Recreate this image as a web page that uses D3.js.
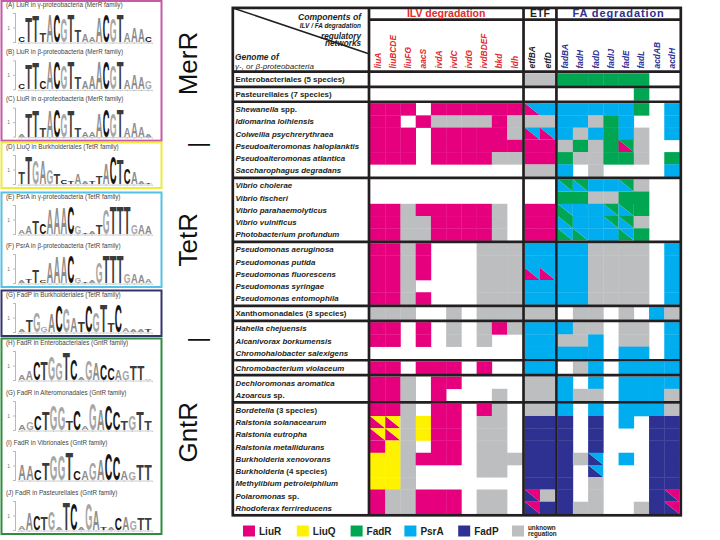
<!DOCTYPE html>
<html>
<head>
<meta charset="utf-8">
<script src="https://cdn.jsdelivr.net/npm/d3@7"></script>
<style>
  body { margin: 0; background: #fff; }
  svg { display: block; font-family: "Liberation Sans", Arial, sans-serif; }
</style>
</head>
<body>
<svg id="fig" width="720" height="540"></svg>
<script>
// ---- data ----
const ilvGenes = ["liuA", "liuBCDE", "liuFG", "aacS", "ivdA", "ivdC", "ivdG", "ivdBDEF", "bkd", "ldh"];
const etfGenes = ["etfBA", "etfD"];
const faGenes = ["fadBA", "fadH", "fadD", "fadIJ", "fadE", "fadL", "acdAB", "acdH"];
const sectionNames = ["ILV degradation", "ETF", "FA degradation"];

const genomes = [
  "Enterobacteriales (5 species)", "Pasteurellales (7 species)",
  "Shewanella spp.", "Idiomarina loihiensis", "Colwellia psychrerythraea",
  "Pseudoalteromonas haloplanktis", "Pseudoalteromonas atlantica", "Saccharophagus degradans",
  "Vibrio cholerae", "Vibrio fischeri", "Vibrio parahaemolyticus", "Vibrio vulnificus", "Photobacterium profundum",
  "Pseudomonas aeruginosa", "Pseudomonas putida", "Pseudomonas fluorescens", "Pseudomonas syringae", "Pseudomonas entomophila",
  "Xanthomonadales (3 species)",
  "Hahella chejuensis", "Alcanivorax borkumensis", "Chromohalobacter salexigens",
  "Chromobacterium violaceum",
  "Dechloromonas aromatica", "Azoarcus sp.",
  "Bordetella (3 species)", "Ralstonia solanacearum", "Ralstonia eutropha", "Ralstonia metallidurans",
  "Burkholderia xenovorans", "Burkholderia (4 species)", "Methylibium petroleiphilum", "Polaromonas sp.", "Rhodoferax ferrireducens"
];
const genomeGroup = [0, 1, 2, 2, 2, 2, 2, 2, 3, 3, 3, 3, 3, 4, 4, 4, 4, 4, 5, 6, 6, 6, 7, 8, 8, 9, 9, 9, 9, 9, 9, 9, 9, 9];
const plainLabels = ["Enterobacteriales (5 species)", "Pasteurellales (7 species)", "Xanthomonadales (3 species)"];

// R LiuR, Q LiuQ, F FadR, P PsrA, D FadP, U unknown, . none ; "a/b" = lower-left a, upper-right b
const regulation = [
  ". . . . . . . . . . U U F F F F F F . .",
  ". . . . . . . . . . . . . . . . . F . .",
  "R R R . R R R R R R R/P P P P P P P F . P",
  "R R . R U U U U R U U U P P U F P . . P",
  "R R R . R R R R R U R/P R/P P U P F P U . P",
  "R R R . R R R R R R R R U F U F R/F U . .",
  "R R R . R R R R U U R R F U U F F U . F",
  ". . . . . . . . . . U U P . U . . . . P",
  ". . . . . . . . . . . . P/F P/F P P P/F U . .",
  ". . . . . . . . . . . . F F U U F F . .",
  "R R U R R R R R U . R R F/P P P P/F P/F F . .",
  "R R U U R R R R U . R R P/F P P P/F P/F U . .",
  "R R U U R R R R U . R R F/P F/P P P F/P F . .",
  "R R U R . . . U U U P P P P U U U U . P",
  "R R U R . . . U U U P P P P U U U U . P",
  "R R U R . . . U U U R/P R/P P P U U U U . P",
  "R R U . . . . U U U P P P P U U U U . P",
  "R R U R . . . U U U P P P P U U U U . P",
  "U U U . . U . U U U U U . U U . U . P U",
  "R R . R . U . U R U P P P U U . U U . P",
  "R R . R . U . U . . P P U U P . U U . P",
  ". . . . . . . . . . P P P P P . P P . P",
  "R R . R R R . R . . P P . U P . P P P P",
  "R R U . R R . . . . U U P . P . P P P P",
  "R R U . R . . . U . U U P U U . P P P U",
  "R R U . R R . R U . U U P . P . P P P U",
  "R/Q R/Q U Q R R . U U . D D D . D . P . D D",
  "R/Q R/Q U Q R R . U U . D D D . D . . . D D",
  "R Q U . R R . U U . D D D . D . . . D D",
  "Q Q U R R R . U U U D D D U D/P . P . D D",
  "Q Q U . . . . U U . D D D . D/P . . . D D",
  "Q Q U . . . . . . . D D D . U . . . D D",
  "R U U R R R . U U . D/R U D . U . . . D D/R",
  "R U U R R R . U U . D/R D D U U . . U D D/R"
];

const regCodes = ["R", "Q", "F", "P", "D", "U"];
const regNames = ["LiuR", "LiuQ", "FadR", "PsrA", "FadP", "unknown reguation"];

// sequence logos (left panel)
const logoTitles = [
  "(A) LiuR in \u03b3-proteobacteria (MerR family)",
  "(B) LiuR in \u03b2-proteobacteria (MerR family)",
  "(C) LiuR in \u03b1-proteobacteria (MerR family)",
  "(D) LiuQ in Burkholderiales (TetR family)",
  "(E) PsrA in \u03b3-proteobacteria (TetR family)",
  "(F) PsrA in \u03b2-proteobacteria (TetR family)",
  "(G) FadP in Burkholderiales (TetR family)",
  "(H) FadR in Enterobacteriales (GntR family)",
  "(G) FadR in Alteromonadales (GntR family)",
  "(I) FadR in Vibrionales (GntR family)",
  "(J) FadR in Pasteurellales (GntR family)"
];
const logoSeqs = [
  "CTTTACGTTAAACGTAAAC",
  "CTTCACGTTAAACGTAAAG",
  "ATTTACGTTAAACGTAAAA",
  "TTGAGTCTAATTACTCAAT",
  "AATCAAACGTATGTTTGAA",
  "ATTCAAACGTAGTTTGAAA",
  "ATGGACGATCGTTCAAAT",
  "AACTGGTCAGACCAGTTA",
  "AGCTGGTCAGACCTGTT",
  "AACTGGTCAGACCAGTT",
  "AACTGATCAGATACAGTT"
];
const logoBits = [
  [0.4, 1.7, 1.8, 0.6, 1.9, 1.9, 1.6, 1.9, 0.8, 0.5, 0.4, 1.7, 1.9, 1.6, 1.9, 0.6, 1.0, 0.9, 0.4],
  [0.4, 1.7, 1.8, 0.5, 1.9, 1.9, 1.6, 1.9, 0.8, 0.5, 0.9, 1.9, 1.9, 1.6, 1.9, 0.6, 1.0, 0.8, 0.5],
  [0.2, 1.6, 1.8, 0.6, 1.8, 1.9, 1.6, 1.8, 0.6, 0.4, 0.4, 1.6, 1.9, 1.6, 1.9, 0.6, 1.0, 0.7, 0.2],
  [0.8, 1.9, 1.6, 1.6, 1.0, 0.7, 0.3, 0.2, 0.7, 0.2, 0.2, 0.5, 1.5, 1.9, 1.7, 1.1, 0.8, 0.2, 0.1],
  [0.3, 0.5, 0.9, 0.7, 1.7, 1.8, 1.8, 1.9, 0.5, 0.1, 0.2, 0.6, 1.7, 1.9, 1.9, 1.9, 0.6, 0.6, 0.5],
  [0.2, 0.3, 0.9, 0.2, 1.5, 1.8, 1.8, 1.9, 0.4, 0.1, 0.2, 1.5, 1.9, 1.9, 1.9, 0.6, 0.6, 0.5, 0.3],
  [0.2, 0.8, 1.4, 0.4, 1.3, 1.8, 1.6, 1.0, 0.7, 1.8, 1.4, 1.9, 0.6, 1.9, 0.3, 0.2, 0.2, 0.2],
  [0.4, 0.6, 1.3, 1.3, 1.6, 1.2, 1.9, 1.5, 0.2, 1.4, 1.2, 1.1, 0.8, 0.7, 0.6, 1.0, 1.0, 0.1],
  [0.4, 0.5, 1.0, 1.3, 1.7, 1.6, 0.6, 1.4, 0.3, 1.8, 1.5, 1.7, 1.3, 0.6, 1.0, 1.3, 0.6],
  [1.1, 1.0, 0.7, 1.2, 1.7, 1.7, 1.9, 0.6, 0.6, 1.2, 1.5, 1.8, 1.6, 0.6, 0.5, 1.1, 1.1],
  [0.3, 1.2, 1.0, 0.9, 1.3, 0.2, 1.9, 1.8, 0.2, 1.8, 1.4, 0.2, 0.2, 0.8, 0.9, 0.6, 0.8, 0.8]
];
const logoFrames = [[0, 2], [3, 3], [4, 5], [6, 6], [7, 10]];
const familyNames = ["MerR", "TetR", "GntR"];

// ---- styles ----
const regColors = ["#e6007e", "#fff200", "#00a651", "#00aeef", "#2e3192", "#bcbec0"];
const frameColors = ["#c65aa6", "#eeeb3c", "#52c2e6", "#34346c", "#2f8d3d"];
const sectionColors = ["#e32b2b", "#231f20", "#2e3192"];
const ink = "#231f20";
const letterFill = { A: "#8c8c8c", C: "#151515", G: "#a6a6a6", T: "#3b3b3b" };
const glyphW = { A: 0.722, C: 0.722, G: 0.778, T: 0.611 };

const svg = d3.select("#fig");
const color = d3.scaleOrdinal().domain(regCodes).range(regColors);

// ---- table scales ----
const genes = ilvGenes.concat(etfGenes, faGenes);
const colSection = genes.map((g, j) => j < ilvGenes.length ? 0 : (j < ilvGenes.length + etfGenes.length ? 1 : 2));
const gapC = 0.16;
const colUnit = genes.map((g, j) => j + colSection[j] * gapC);
const x = d3.scaleLinear().domain([0, genes.length + 2 * gapC]).range([370, 679.5]);
const cw = x(1) - x(0);

const gapR = 0.22;
const rowUnit = genomes.map((g, i) => i + genomeGroup[i] * gapR);
const y = d3.scaleLinear().domain([0, genomes.length + 9 * gapR]).range([73.2, 514]);
const rh = y(1) - y(0);

const cells = [];
regulation.forEach((row, i) => {
  row.split(" ").forEach((code, j) => {
    if (code !== ".") cells.push({ i, j, code });
  });
});

const table = svg.append("g");
const cellG = table.selectAll("g.cell").data(cells).join("g").attr("class", "cell");
cellG.each(function (d) {
  const g = d3.select(this);
  const x0 = x(colUnit[d.j]), x1 = x(colUnit[d.j] + 1);
  const y0 = y(rowUnit[d.i]), y1 = y(rowUnit[d.i] + 1);
  if (d.code.includes("/")) {
    const [ll, ur] = d.code.split("/");
    g.append("path").attr("d", `M${x0},${y0}L${x0},${y1}L${x1},${y1}Z`).attr("fill", color(ll));
    g.append("path").attr("d", `M${x0},${y0}L${x1},${y0}L${x1},${y1}Z`).attr("fill", color(ur));
  } else {
    g.append("rect").attr("x", x0).attr("y", y0)
      .attr("width", x1 - x0 + 0.3).attr("height", y1 - y0 + 0.3)
      .attr("fill", color(d.code));
  }
});

// ---- grid lines ----
const lineW = 2.7;
const tLeft = 232.8, tRight = 680.8, tTop = 7.9, tBottom = 515.3;
const grid = table.append("g").attr("stroke", ink).attr("stroke-width", lineW);
// group separators
d3.range(1, 10).forEach(gi => {
  const first = genomeGroup.indexOf(gi);
  const yy = y(rowUnit[first] - gapR / 2);
  grid.append("line").attr("x1", tLeft).attr("x2", tRight).attr("y1", yy).attr("y2", yy);
});
// section separators
[1, 2].forEach(s => {
  const first = colSection.indexOf(s);
  const xx = x(colUnit[first] - gapC / 2);
  grid.append("line").attr("x1", xx).attr("x2", xx).attr("y1", tTop).attr("y2", tBottom);
});
grid.append("line").attr("x1", 369).attr("x2", 369).attr("y1", tTop).attr("y2", tBottom);
grid.append("line").attr("x1", 369).attr("x2", tRight).attr("y1", 19.7).attr("y2", 19.7);
grid.append("line").attr("x1", tLeft).attr("x2", tRight).attr("y1", 71.7).attr("y2", 71.7);
grid.append("rect").attr("x", tLeft).attr("y", tTop).attr("width", tRight - tLeft).attr("height", tBottom - tTop)
  .attr("fill", "none");
// diagonal of corner cell
table.append("line").attr("x1", tLeft).attr("y1", tTop).attr("x2", 368).attr("y2", 53.5)
  .attr("stroke", ink).attr("stroke-width", 1.6);

// ---- header text ----
const sectionRange = [0, 1, 2].map(s => {
  const idx = colSection.map((c, j) => c === s ? j : -1).filter(j => j >= 0);
  return [x(colUnit[idx[0]]), x(colUnit[idx[idx.length - 1]] + 1)];
});
table.selectAll("text.sec").data(sectionNames).join("text")
  .attr("x", (d, s) => (sectionRange[s][0] + sectionRange[s][1]) / 2)
  .attr("y", 17.3)
  .attr("text-anchor", "middle")
  .attr("font-weight", "bold")
  .attr("font-size", (d, s) => s === 2 ? 11 : 10.5)
  .attr("letter-spacing", (d, s) => s === 2 ? 0.9 : 0)
  .attr("fill", (d, s) => sectionColors[s])
  .text(d => d);

table.selectAll("text.gene").data(genes).join("text")
  .attr("transform", (d, j) => `translate(${x(colUnit[j]) + cw / 2 + 3},68.5) rotate(-90)`)
  .attr("font-size", 8.4).attr("font-weight", "bold").attr("font-style", "italic")
  .attr("fill", (d, j) => sectionColors[colSection[j]])
  .text(d => d);

const corner = table.append("g").attr("font-weight", "bold").attr("font-style", "italic").attr("fill", ink);
corner.append("text").attr("x", 361).attr("y", 20).attr("text-anchor", "end").attr("font-size", 8.6).text("Components of");
corner.append("text").attr("x", 361).attr("y", 28).attr("text-anchor", "end").attr("font-size", 6.4).text("ILV / FA degradation");
corner.append("text").attr("x", 361).attr("y", 38.5).attr("text-anchor", "end").attr("font-size", 8.2).text("regulatory");
corner.append("text").attr("x", 361).attr("y", 46).attr("text-anchor", "end").attr("font-size", 8.2).text("networks");
corner.append("text").attr("x", 235).attr("y", 60).attr("font-size", 8.4).text("Genome of");
corner.append("text").attr("x", 235).attr("y", 68.5).attr("font-size", 8).attr("font-weight", "normal")
  .text("\u03b3-, or \u03b2-proteobacteria");

// ---- row labels ----
const rowLab = table.selectAll("text.row").data(genomes).join("text")
  .attr("x", 235.5)
  .attr("y", (d, i) => y(rowUnit[i]) + rh / 2 + 3)
  .attr("font-size", 7.9).attr("font-weight", "bold").attr("fill", ink);
rowLab.each(function (d) {
  const t = d3.select(this);
  if (plainLabels.includes(d)) { t.text(d); return; }
  const m = d.match(/^(.*?)((?: \(\d species\))|(?: spp\.)|(?: sp\.))?$/);
  t.append("tspan").attr("font-style", "italic").text(m[1]);
  if (m[2]) t.append("tspan").text(m[2]);
});

// ---- legend ----
const lx = d3.scaleLinear().domain([0, regCodes.length - 1]).range([243, 512]);
const legend = svg.append("g");
legend.selectAll("rect").data(regCodes).join("rect")
  .attr("x", (d, k) => lx(k)).attr("y", 525.5).attr("width", 12).attr("height", 11)
  .attr("fill", d => color(d));
legend.selectAll("text").data(regNames).join("text")
  .attr("x", (d, k) => lx(k) + 16)
  .attr("y", 535)
  .attr("font-weight", "bold")
  .attr("font-size", (d, k) => k === regNames.length - 1 ? 6.3 : 10)
  .attr("fill", ink)
  .each(function (d, k) {
    const t = d3.select(this);
    if (k === regNames.length - 1) {
      const w = d.split(" ");
      t.attr("y", null);
      t.append("tspan").attr("x", lx(k) + 16).attr("y", 530).text(w[0]);
      t.append("tspan").attr("x", lx(k) + 16).attr("y", 536).text(w[1]);
    } else t.text(d);
  });

// ---- left panel: sequence logos ----
const capY = d3.scaleLinear().domain([0, 3, 4, 6, 7, 10]).range([5, 147, 197, 295, 343, 493]);
const panel = svg.append("g");
const frameTop = k => capY(logoFrames[k][0]) - 4.5;
const frameBot = k => capY(logoFrames[k][1]) + 41;

logoFrames.forEach((f, k) => {
  panel.append("rect").attr("x", 1.5).attr("y", Math.max(1, frameTop(k)))
    .attr("width", 160).attr("height", frameBot(k) - Math.max(1, frameTop(k)))
    .attr("fill", "none").attr("stroke", frameColors[k]).attr("stroke-width", 2);
});

logoSeqs.forEach((seq, i) => {
  const cap = capY(i);
  const base = cap + 37;
  const bits = d3.scaleLinear().domain([0, 2]).range([base, base - 29]);
  const pos = d3.scaleBand().domain(d3.range(seq.length)).range([18, 152]).padding(0.04);
  const g = panel.append("g");
  g.append("text").attr("x", 6).attr("y", cap + 1.8).attr("font-size", 6.3).attr("fill", "#444")
    .text(logoTitles[i]);
  g.append("g").attr("transform", "translate(15,0)")
    .call(d3.axisLeft(bits).tickValues([1]).tickSize(2).tickFormat(() => "1"))
    .call(a => a.selectAll("text").attr("font-size", 5).attr("fill", "#777"))
    .call(a => a.selectAll("path,line").attr("stroke", "#888").attr("stroke-width", 0.6));
  g.append("g").attr("transform", `translate(0,${base + 0.5})`)
    .call(d3.axisBottom(pos).tickSize(1.5).tickFormat(""))
    .call(a => a.selectAll("path,line").attr("stroke", "#aaa").attr("stroke-width", 0.6));
  const letters = seq.split("").map((c, k) => ({ c, k, h: logoBits[i][k] }));
  g.selectAll("text.l").data(letters).join("text")
    .attr("class", "l")
    .attr("transform", d => `translate(${pos(d.k) + pos.bandwidth() / 2},${base}) scale(${pos.bandwidth() / (glyphW[d.c] * 10)},${(base - bits(d.h)) / 7.16})`)
    .attr("text-anchor", "middle").attr("font-size", 10).attr("font-weight", "bold")
    .attr("fill", d => letterFill[d.c])
    .text(d => d.c);
});

// family labels
const famY = [(frameTop(0) + frameBot(0)) / 2 - 7, (frameTop(2) + frameBot(2)) / 2, (frameTop(4) + frameBot(4)) / 2 - 4];
panel.selectAll("text.fam").data(familyNames).join("text")
  .attr("transform", (d, k) => `translate(197,${famY[k]}) rotate(-90)`)
  .attr("text-anchor", "middle").attr("font-size", 26).attr("fill", "#111")
  .text(d => d);
[frameTop(1) + 2.5, frameTop(4) + 1.5].forEach(yy => {
  panel.append("text").attr("transform", `translate(197,${yy}) rotate(-90)`)
    .attr("text-anchor", "middle").attr("font-size", 24).attr("dy", "0.35em")
    .attr("fill", "#111").text("|");
});
</script>
</body>
</html>
